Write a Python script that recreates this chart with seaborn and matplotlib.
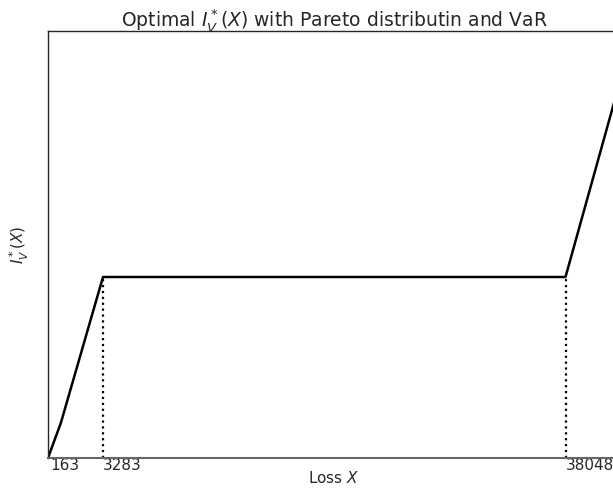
import numpy as np
import pandas as pd
import matplotlib
matplotlib.use("Agg")
import matplotlib.pyplot as plt
import seaborn as sns

# ---- data ----
loss_x = [0, 776, 3283, 38048, 41420]
indemnity_y = [0, 613, 3120, 3120, 6494]
tick_values = [163, 3283, 38048]
tick_labels = ["163", "3283", "38048"]
vline_x = [3283, 38048]
vline_top = [3120, 3120]

sns.set_theme(style="white")
plt.rcParams["font.family"] = ["DejaVu Sans"]
plt.rcParams["mathtext.fontset"] = "dejavusans"

fig = plt.figure(figsize=(6.13, 4.90), dpi=100)
ax = fig.add_axes([48 / 613, 32 / 490, 572 / 613, 427 / 490])

df = pd.DataFrame({"x": loss_x, "y": indemnity_y})
sns.lineplot(data=df, x="x", y="y", color="black", lw=1.8, estimator=None,
             sort=False, ax=ax)
for vx, vt in zip(vline_x, vline_top):
    ax.plot([vx, vx], [0, vt], color="black", lw=1.6, ls=":")

# piecewise-linear x scale (middle region compressed as in the reference)
anchor_loss = np.array([0, 3283, 38048, 41420], dtype=float)
anchor_pos = np.array([0, 55, 517.5, 572], dtype=float)


def fwd(v):
    return np.interp(v, anchor_loss, anchor_pos)


def inv(p):
    return np.interp(p, anchor_pos, anchor_loss)


ax.set_xscale("function", functions=(fwd, inv))
ax.set_xlim(0, 41420)
ax.set_ylim(0, 7361)

ax.set_xticks(tick_values)
ax.set_xticklabels(tick_labels, ha="left", fontsize=11)
ax.set_yticks([])
ax.tick_params(axis="x", length=0, pad=0, colors="#262626")

for s in ax.spines.values():
    s.set_color("#262626")
    s.set_linewidth(1.0)
ax.spines["bottom"].set_color("#666666")
ax.spines["bottom"].set_linewidth(1.5)

ax.set_xlabel("Loss $X$", fontsize=11, labelpad=-2)
ax.set_ylabel("$I_V^*(X)$", fontsize=11, labelpad=12)
ax.set_title("Optimal $I_V^*(X)$ with Pareto distributin and VaR", fontsize=13.5, pad=3)

fig.savefig("out.png", dpi=100)
